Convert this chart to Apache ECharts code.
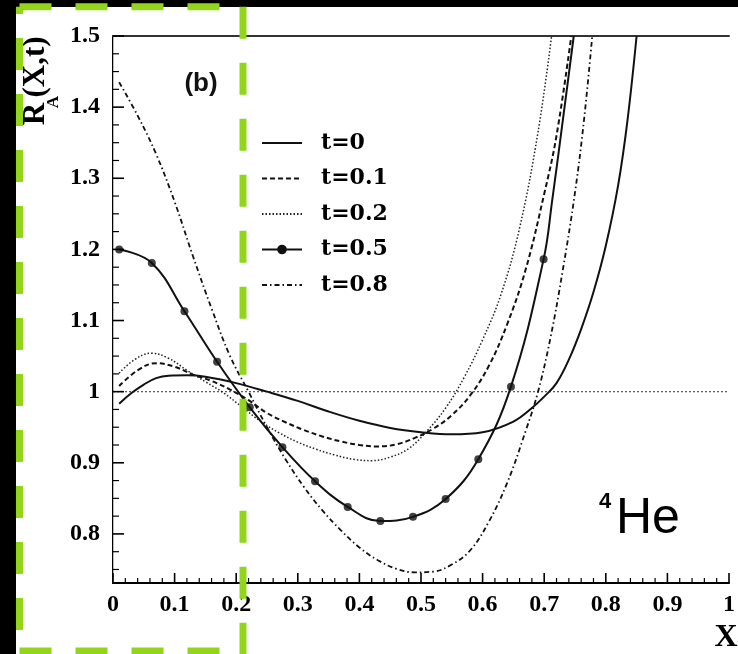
<!DOCTYPE html>
<html>
<head>
<meta charset="utf-8">
<script src="https://cdn.jsdelivr.net/npm/echarts@6/dist/echarts.min.js"></script>
<style>html,body{margin:0;padding:0;background:#fff;}#c{width:738px;height:654px;}</style>
</head>
<body>
<div id="c"></div>
<script>
// ---- data ----
const seriesNames = ['t=0', 't=0.1', 't=0.2', 't=0.5', 't=0.8'];

const t0X = [0.01,0.03,0.05,0.07,0.09,0.12,0.15,0.2,0.25,0.3,0.35,0.4,0.45,0.5,0.55,0.6,0.65,0.68,0.70,0.72,0.74,0.76,0.78,0.80,0.82,0.835,0.85];
const t0Y = [0.983,0.998,1.010,1.019,1.0225,1.023,1.021,1.012,1.000,0.987,0.972,0.959,0.949,0.943,0.940,0.943,0.958,0.977,0.993,1.012,1.045,1.088,1.140,1.205,1.290,1.380,1.50];

const t01X = [0.01,0.04,0.07,0.1,0.13,0.16,0.19,0.22,0.25,0.28,0.31,0.34,0.37,0.40,0.43,0.46,0.49,0.52,0.55,0.58,0.61,0.64,0.67,0.70,0.72,0.744];
const t01Y = [1.008,1.030,1.040,1.035,1.024,1.015,1.003,0.988,0.970,0.957,0.946,0.937,0.930,0.925,0.923,0.926,0.935,0.948,0.967,0.995,1.036,1.095,1.172,1.278,1.360,1.50];

const t02X = [0.01,0.035,0.062,0.09,0.12,0.15,0.18,0.21,0.24,0.27,0.30,0.33,0.36,0.39,0.42,0.45,0.48,0.51,0.54,0.57,0.60,0.63,0.66,0.69,0.712];
const t02Y = [1.026,1.045,1.054,1.047,1.030,1.014,0.998,0.978,0.958,0.942,0.929,0.919,0.911,0.905,0.903,0.908,0.920,0.945,0.977,1.020,1.073,1.137,1.230,1.365,1.50];

// t=0.5: points carrying a dot marker, then the rest of the curve
const t05DotX = [0.01,0.063,0.116,0.169,0.222,0.275,0.328,0.381,0.434,0.487,0.540,0.593,0.646,0.699];
const t05DotY = [1.200,1.181,1.113,1.042,0.978,0.922,0.874,0.838,0.818,0.824,0.849,0.905,1.007,1.186];
const t05TailX = [0.713,0.73,0.748];
const t05TailY = [1.269,1.38,1.50];

const t08X = [0.01,0.04,0.07,0.1,0.13,0.16,0.19,0.22,0.25,0.28,0.31,0.34,0.37,0.40,0.43,0.46,0.49,0.52,0.55,0.58,0.61,0.64,0.67,0.69,0.71,0.73,0.75,0.765,0.778];
const t08Y = [1.435,1.388,1.334,1.267,1.190,1.117,1.050,1.000,0.950,0.905,0.866,0.833,0.805,0.781,0.763,0.751,0.746,0.747,0.757,0.777,0.817,0.872,0.945,1.000,1.075,1.170,1.280,1.385,1.50];

const refX = [0, 1];
const refY = [1, 1];

// axis ticks
const xMajorTicks = [0,0.1,0.2,0.3,0.4,0.5,0.6,0.7,0.8,0.9,1];
const xMinorTicks = [0.02,0.04,0.06,0.08,0.12,0.14,0.16,0.18,0.22,0.24,0.26,0.28,0.32,0.34,0.36,0.38,0.42,0.44,0.46,0.48,0.52,0.54,0.56,0.58,0.62,0.64,0.66,0.68,0.72,0.74,0.76,0.78,0.82,0.84,0.86,0.88,0.92,0.94,0.96,0.98];
const yTickLabels = [0.8, 0.9, 1.0, 1.1, 1.2, 1.3, 1.4, 1.5];
const yMinorTicks = [0.75,0.775,0.825,0.85,0.875,0.925,0.95,0.975,1.025,1.05,1.075,1.125,1.15,1.175,1.225,1.25,1.275,1.325,1.35,1.375,1.425,1.45,1.475];

// ---- build ----
const Y_MIN = 0.731, Y_MAX = 1.5;
const zip = (xs, ys) => xs.map((x, i) => [x, ys[i]]);
const ink = '#111';
const serif = '"Liberation Serif", "Times New Roman", serif';
const sans = '"Liberation Sans", Arial, sans-serif';

const legendData = seriesNames.map(n => (n === 't=0.5' ? { name: n } : { name: n, itemStyle: { opacity: 0 } }));

const baseGraphic = [
  { type: 'rect', z: 50, silent: true, shape: { x: 0, y: 0, width: 738, height: 7 }, style: { fill: '#000' } },
  { type: 'rect', z: 50, silent: true, shape: { x: 0, y: 0, width: 16, height: 654 }, style: { fill: '#000' } },
  { type: 'text', x: 201, y: 84, style: { text: '(b)', fill: '#111', font: 'bold 26px ' + sans, align: 'center', verticalAlign: 'middle' } },
  { type: 'text', x: 605, y: 502, style: { text: '4', fill: '#000', font: 'bold 22px ' + sans, align: 'center', verticalAlign: 'middle' } },
  { type: 'text', x: 616, y: 519, style: { text: 'He', fill: '#000', font: '50px ' + sans, align: 'left', verticalAlign: 'middle' } },
  { type: 'text', x: 36, y: 114, rotation: Math.PI / 2, style: { text: 'R', fill: '#000', font: 'bold 31px ' + serif, align: 'center', verticalAlign: 'middle' } },
  { type: 'text', x: 54, y: 102, rotation: Math.PI / 2, style: { text: 'A', fill: '#000', font: 'bold 17px ' + serif, align: 'center', verticalAlign: 'middle' } },
  { type: 'text', x: 36, y: 67, rotation: Math.PI / 2, style: { text: '(X,t)', fill: '#000', font: 'bold 31px ' + serif, align: 'center', verticalAlign: 'middle' } },
  { type: 'text', x: 726, y: 638, style: { text: 'X', fill: '#000', font: 'bold 32px ' + serif, align: 'center', verticalAlign: 'middle' } },
  { type: 'polyline', z: 100, silent: true, shape: { points: [[19.5, 6.7], [243, 6.7]] },
    style: { stroke: '#92d51b', lineWidth: 7, fill: null, lineDash: [32, 24] } },
  { type: 'polyline', z: 100, silent: true, shape: { points: [[243, 6.7], [243, 654]] },
    style: { stroke: '#92d51b', lineWidth: 7, fill: null, lineDash: [32, 24] } },
  { type: 'polyline', z: 100, silent: true, shape: { points: [[19.5, 6.7], [19.5, 654]] },
    style: { stroke: '#92d51b', lineWidth: 7, fill: null, lineDash: [32, 24], lineDashOffset: 24.7 } },
  { type: 'polyline', z: 100, silent: true, shape: { points: [[19.5, 651], [243, 651]] },
    style: { stroke: '#92d51b', lineWidth: 7, fill: null, lineDash: [32, 24] } }
];

const chart = echarts.init(document.getElementById('c'));
chart.setOption({
  backgroundColor: '#fff',
  animation: false,
  grid: { left: 113, right: 2, top: 36, bottom: 71 },
  xAxis: [{
    type: 'value', min: 0, max: 1, interval: 0.1,
    axisLine: { show: true, lineStyle: { color: '#000', width: 2 } },
    axisTick: { show: false },
    splitLine: { show: false },
    axisLabel: { margin: 10, color: '#000', fontFamily: serif, fontWeight: 'bold', fontSize: 24 }
  }, {
    type: 'value', min: 0, max: 1, position: 'top',
    axisLine: { show: true, lineStyle: { color: '#333', width: 2 } },
    axisTick: { show: false }, axisLabel: { show: false }, splitLine: { show: false }
  }],
  yAxis: [{
    type: 'value', min: Y_MIN, max: Y_MAX,
    axisLine: { show: true, lineStyle: { color: '#000', width: 2 } },
    axisTick: { show: false },
    splitLine: { show: false },
    axisLabel: { margin: 13, color: '#000', fontFamily: serif, fontWeight: 'bold', fontSize: 24,
      customValues: yTickLabels }
  }, {
    type: 'value', min: Y_MIN, max: Y_MAX, position: 'right',
    axisLine: { show: true, lineStyle: { color: '#bbb', width: 1 } },
    axisTick: { show: false }, axisLabel: { show: false }, splitLine: { show: false }
  }],
  legend: {
    data: legendData,
    orient: 'vertical', left: 256, top: 125,
    itemWidth: 40, itemHeight: 12, itemGap: 9.5,
    textStyle: { color: '#000', fontFamily: '"DejaVu Serif", serif', fontWeight: 'bold', fontSize: 22, lineHeight: 26, padding: [0, 0, 0, 14] }
  },
  series: [
    { type: 'line', name: 'ref', data: zip(refX, refY), symbol: 'none', silent: true,
      lineStyle: { color: '#555', width: 1.2, type: [2, 2] }, z: 1 },
    { type: 'line', name: 't=0', data: zip(t0X, t0Y), smooth: 0.4, symbol: 'none',
      lineStyle: { color: ink, width: 2 }, itemStyle: { color: ink } },
    { type: 'line', name: 't=0.1', data: zip(t01X, t01Y), smooth: 0.4, symbol: 'none',
      lineStyle: { color: ink, width: 2, type: [5, 3] }, itemStyle: { color: ink } },
    { type: 'line', name: 't=0.2', data: zip(t02X, t02Y), smooth: 0.4, symbol: 'none',
      lineStyle: { color: '#222', width: 1.5, type: [1.5, 2] }, itemStyle: { color: '#222' } },
    { type: 'line', name: 't=0.5', data: zip(t05DotX.concat(t05TailX), t05DotY.concat(t05TailY)), smooth: 0.4, symbol: 'none',
      lineStyle: { color: ink, width: 2 }, itemStyle: { color: ink } },
    { type: 'scatter', name: 't=0.5', data: zip(t05DotX, t05DotY), symbol: 'circle', symbolSize: 8,
      itemStyle: { color: ink }, z: 3 },
    { type: 'line', name: 't=0.8', data: zip(t08X, t08Y), smooth: 0.4, symbol: 'none',
      lineStyle: { color: ink, width: 1.8, type: [5, 3, 1.5, 3] }, itemStyle: { color: ink } }
  ],
  graphic: baseGraphic
});

// inward tick marks, positioned through the chart's own axis scales
const toPx = p => chart.convertToPixel({ xAxisIndex: 0, yAxisIndex: 0 }, p);
const tickLines = [];
function xTick(v, len, w) {
  const p = toPx([v, Y_MIN]);
  tickLines.push({ type: 'line', z: 60, silent: true,
    shape: { x1: p[0], y1: p[1], x2: p[0], y2: p[1] - len }, style: { stroke: '#000', lineWidth: w } });
}
function yTick(v, len, w) {
  const p = toPx([0, v]);
  tickLines.push({ type: 'line', z: 60, silent: true,
    shape: { x1: p[0], y1: p[1], x2: p[0] + len, y2: p[1] }, style: { stroke: '#000', lineWidth: w } });
}
xMajorTicks.forEach(v => xTick(v, 10, 1.6));
xMinorTicks.forEach(v => xTick(v, 5, 1.2));
yTickLabels.forEach(v => yTick(v, 11, 1.6));
yMinorTicks.forEach(v => yTick(v, 6, 1.2));
chart.setOption({ graphic: baseGraphic.concat(tickLines) });
</script>
</body>
</html>
